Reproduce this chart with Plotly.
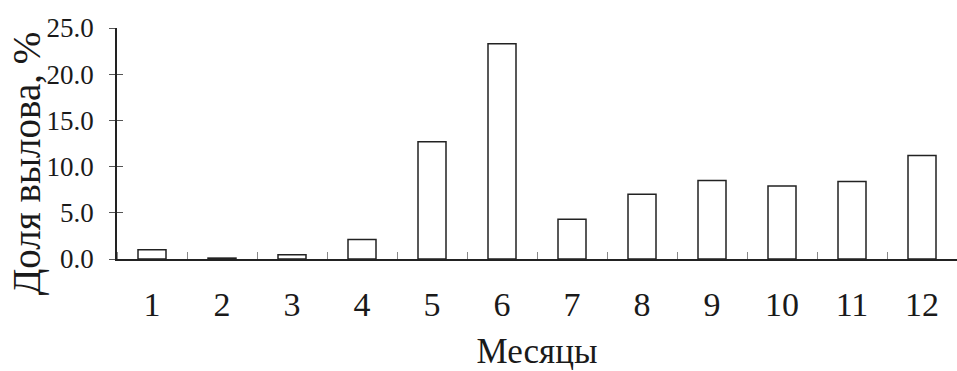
import plotly.graph_objects as go

months = [1, 2, 3, 4, 5, 6, 7, 8, 9, 10, 11, 12]
month_labels = ["1", "2", "3", "4", "5", "6", "7", "8", "9", "10", "11", "12"]
share = [1.0, 0.1, 0.45, 2.1, 12.7, 23.3, 4.3, 7.0, 8.5, 7.9, 8.4, 11.2]
y_ticks = [0, 5, 10, 15, 20, 25]

FONT = "Liberation Serif"

fig = go.Figure()
fig.add_trace(go.Bar(
    x=months, y=share, width=0.4,
    marker=dict(color="white", line=dict(color="#222222", width=1.5)),
    showlegend=False,
))
# invisible trace for overlay axis with inside ticks
fig.add_trace(go.Scatter(x=[None], y=[None], yaxis="y2", showlegend=False, hoverinfo="skip"))

fig.update_layout(
    width=957, height=371,
    margin=dict(l=117, r=0, t=28, b=112),
    paper_bgcolor="white", plot_bgcolor="white",
    font=dict(family=FONT, color="#1a1a1a"),
    bargap=0.6,
    xaxis=dict(
        range=[0.5, 12.5], automargin=False,
        tickvals=months, ticktext=month_labels,
        ticks="", showgrid=False, zeroline=False,
        showline=True, linecolor="#222222", linewidth=1.5,
        tickfont=dict(size=34, family=FONT),
        ticklabelstandoff=14,
        minor=dict(ticks="inside", tick0=0.5, dtick=1, ticklen=7,
                   tickcolor="#888888", tickwidth=1.2, showgrid=False),
        title=dict(text="Месяцы", font=dict(size=35, family=FONT), standoff=20),
    ),
    yaxis=dict(
        range=[0, 25], automargin=False,
        tickvals=y_ticks, tickformat=".1f",
        ticks="outside", ticklen=6, tickcolor="#555555", tickwidth=1.2,
        showgrid=False, zeroline=False,
        showline=True, linecolor="#222222", linewidth=1.5,
        tickfont=dict(size=27, family=FONT),
        ticklabelstandoff=10,
    ),
    yaxis2=dict(
        range=[0, 25], overlaying="y", side="left", automargin=False,
        tickvals=y_ticks, ticks="inside", ticklen=6, tickcolor="#555555", tickwidth=1.2,
        showticklabels=False, showgrid=False, zeroline=False, showline=False,
    ),
    annotations=[dict(
        text="Доля вылова, %", textangle=-90,
        xref="paper", yref="paper", x=-0.107, y=0.415,
        xanchor="center", yanchor="middle", showarrow=False,
        font=dict(size=39, family=FONT, color="#1a1a1a"),
    )],
)

fig.write_html("out.html", config={"displayModeBar": False},
               post_script="document.body.style.margin='0';")
